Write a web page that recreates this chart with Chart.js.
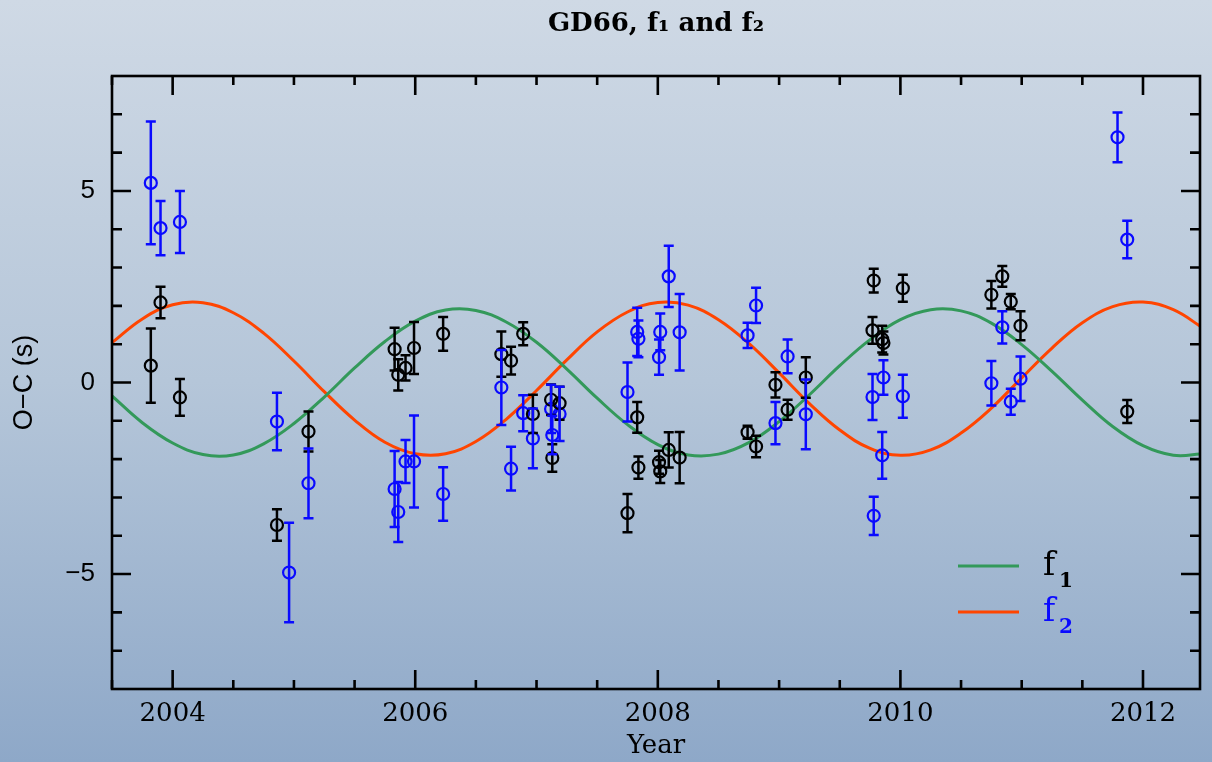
<!DOCTYPE html>
<html><head><meta charset="utf-8">
<script src="https://cdn.jsdelivr.net/npm/chart.js@4.4.1/dist/chart.umd.min.js"></script>
<style>
html,body{margin:0;padding:0;}
body{width:1212px;height:762px;overflow:hidden;background:linear-gradient(to bottom,#cfd9e5 0%,#b5c6d9 50%,#8ea8c8 100%);}
canvas{display:block;}
</style></head><body>
<canvas id="c" width="1212" height="762"></canvas>
<script>
// ---- data ----
const f1Year = [2003.82,2003.90,2004.06,2004.86,2005.12,2005.83,2005.86,2005.92,2005.99,2006.23,2006.71,2006.79,2006.89,2006.97,2007.12,2007.13,2007.19,2007.75,2007.83,2007.84,2008.01,2008.02,2008.09,2008.18,2008.74,2008.81,2008.97,2009.07,2009.22,2009.77,2009.78,2009.85,2009.86,2010.02,2010.75,2010.84,2010.91,2010.99,2011.87];
const f1Val  = [0.44,2.09,-0.39,-3.72,-1.28,0.87,0.20,0.38,0.90,1.27,0.74,0.57,1.27,-0.82,-0.45,-1.97,-0.54,-3.41,-0.91,-2.22,-2.08,-2.32,-1.76,-1.96,-1.30,-1.67,-0.06,-0.71,0.13,1.36,2.66,1.13,1.03,2.46,2.29,2.77,2.11,1.48,-0.76];
const f1Err  = [0.97,0.41,0.48,0.41,0.52,0.56,0.41,0.33,0.68,0.44,0.59,0.36,0.30,0.50,0.40,0.36,0.43,0.50,0.40,0.29,0.30,0.30,0.46,0.67,0.17,0.28,0.33,0.26,0.53,0.35,0.31,0.35,0.30,0.35,0.36,0.27,0.20,0.38,0.30];

const f2Year = [2003.82,2003.90,2004.06,2004.86,2004.96,2005.12,2005.83,2005.86,2005.92,2005.99,2006.23,2006.71,2006.79,2006.89,2006.97,2007.12,2007.13,2007.19,2007.75,2007.83,2007.84,2008.01,2008.02,2008.09,2008.18,2008.74,2008.81,2008.97,2009.07,2009.22,2009.77,2009.78,2009.85,2009.86,2010.02,2010.75,2010.84,2010.91,2010.99,2011.79,2011.87];
const f2Val  = [5.21,4.03,4.19,-1.02,-4.96,-2.63,-2.78,-3.38,-2.06,-2.06,-2.91,-0.13,-2.25,-0.80,-1.46,-0.69,-1.37,-0.82,-0.25,1.32,1.14,0.66,1.32,2.77,1.31,1.23,2.01,-1.06,0.68,-0.83,-0.38,-3.48,-1.90,0.13,-0.36,-0.02,1.44,-0.50,0.10,6.40,3.73];
const f2Err  = [1.60,0.71,0.81,0.75,1.30,0.91,0.99,0.78,0.56,1.20,0.70,0.98,0.57,0.47,0.78,0.63,0.50,0.71,0.77,0.63,0.48,0.46,0.48,0.80,1.00,0.33,0.46,0.55,0.44,0.91,0.60,0.50,0.61,0.45,0.56,0.58,0.42,0.34,0.58,0.65,0.49];

const curveYear = [2003.5,2003.75,2004.0,2004.25,2004.5,2004.75,2005.0,2005.25,2005.5,2005.75,2006.0,2006.25,2006.5,2006.75,2007.0,2007.25,2007.5,2007.75,2008.0,2008.25,2008.5,2008.75,2009.0,2009.25,2009.5,2009.75,2010.0,2010.25,2010.5,2010.75,2011.0,2011.25,2011.5,2011.75,2012.0,2012.25,2012.5];
const f1Curve = [-0.35,-1.05,-1.58,-1.88,-1.89,-1.60,-1.07,-0.38,0.38,1.07,1.60,1.89,1.88,1.58,1.05,0.35,-0.41,-1.10,-1.62,-1.89,-1.87,-1.57,-1.02,-0.32,0.44,1.12,1.64,1.90,1.87,1.55,0.99,0.29,-0.46,-1.15,-1.65,-1.90,-1.86];
const f2Curve = [1.04,1.66,2.03,2.08,1.82,1.29,0.56,-0.24,-0.98,-1.56,-1.86,-1.86,-1.54,-0.96,-0.21,0.59,1.32,1.84,2.09,2.02,1.64,1.02,0.25,-0.55,-1.24,-1.72,-1.90,-1.76,-1.32,-0.67,0.12,0.90,1.56,1.98,2.10,1.90,1.41];

const xTickLabels = [2004,2006,2008,2010,2012];
const xMinorTicks = [2003.5,2004,2004.5,2005,2005.5,2006,2006.5,2007,2007.5,2008,2008.5,2009,2009.5,2010,2010.5,2011,2011.5,2012];
const yTickLabels = [-5,0,5];
const yMinorTicks = [-7,-6,-5,-4,-3,-2,-1,0,1,2,3,4,5,6,7];
const titleText = 'GD66, f\u2081 and f\u2082';
const legendNames = ['f1','f2'];

// ---- styles ----
const BLACK = '#000000', BLUE = '#0a0aff', GREEN = '#33995a', ORANGE = '#ff4500';
const pts = (xs, ys) => xs.map((v,i)=>({x:v, y:ys[i]}));

const errorBars = {
  id:'errorBars',
  afterDatasetsDraw(chart){
    const {ctx, scales:{x,y}, chartArea:a} = chart;
    ctx.save();
    ctx.beginPath(); ctx.rect(a.left,a.top,a.width,a.height); ctx.clip();
    chart.data.datasets.forEach(ds=>{
      if(!ds.errors) return;
      ctx.strokeStyle = ds.borderColor; ctx.lineWidth = 2.5;
      ds.data.forEach((p,j)=>{
        const px = x.getPixelForValue(p.x), e = ds.errors[j];
        const y1 = y.getPixelForValue(p.y+e), y2 = y.getPixelForValue(p.y-e);
        ctx.beginPath();
        ctx.moveTo(px,y1); ctx.lineTo(px,y2);
        ctx.moveTo(px-5,y1); ctx.lineTo(px+5,y1);
        ctx.moveTo(px-5,y2); ctx.lineTo(px+5,y2);
        ctx.stroke();
      });
    });
    ctx.restore();
  }
};

const frame = {
  id:'frame',
  afterDraw(chart){
    const {ctx, scales:{x,y}, chartArea:a} = chart;
    ctx.save();
    ctx.strokeStyle = '#000'; ctx.lineWidth = 2.6;
    ctx.strokeRect(a.left,a.top,a.right-a.left,a.bottom-a.top);
    ctx.beginPath();
    xMinorTicks.forEach(v=>{
      const px = x.getPixelForValue(v), L = xTickLabels.includes(v)?19:9;
      ctx.moveTo(px,a.bottom); ctx.lineTo(px,a.bottom-L);
      ctx.moveTo(px,a.top); ctx.lineTo(px,a.top+L);
    });
    yMinorTicks.forEach(v=>{
      const py = y.getPixelForValue(v), L = yTickLabels.includes(v)?19:10;
      ctx.moveTo(a.left,py); ctx.lineTo(a.left+L,py);
      ctx.moveTo(a.right,py); ctx.lineTo(a.right-L,py);
    });
    ctx.stroke();
    // legend
    const items = [
      {c:GREEN, tc:BLACK, name:legendNames[0], y:a.bottom-123},
      {c:ORANGE, tc:BLUE, name:legendNames[1], y:a.bottom-77}
    ];
    items.forEach(it=>{
      ctx.strokeStyle = it.c; ctx.lineWidth = 3;
      ctx.beginPath(); ctx.moveTo(a.right-242,it.y); ctx.lineTo(a.right-181,it.y); ctx.stroke();
      ctx.fillStyle = it.tc; ctx.textBaseline='alphabetic'; ctx.textAlign='left';
      ctx.font = '33px "DejaVu Serif"';
      ctx.fillText(it.name[0], a.right-157, it.y+9);
      ctx.font = 'bold 20px "DejaVu Serif"';
      ctx.fillText(it.name.slice(1), a.right-141, it.y+21);
    });
    ctx.restore();
  }
};

new Chart(document.getElementById('c'), {
  type:'scatter',
  data:{datasets:[
    {type:'line', label:'f\u2081', data:pts(curveYear,f1Curve), borderColor:GREEN, borderWidth:3, pointRadius:0, tension:0.4, fill:false, order:3},
    {type:'line', label:'f\u2082', data:pts(curveYear,f2Curve), borderColor:ORANGE, borderWidth:3, pointRadius:0, tension:0.4, fill:false, order:3},
    {label:'f1 O-C', data:pts(f1Year,f1Val), errors:f1Err, borderColor:BLACK, backgroundColor:'rgba(0,0,0,0)', pointRadius:6, pointBorderWidth:2.2, pointHoverRadius:6, order:1},
    {label:'f2 O-C', data:pts(f2Year,f2Val), errors:f2Err, borderColor:BLUE, backgroundColor:'rgba(0,0,0,0)', pointRadius:6, pointBorderWidth:2.2, pointHoverRadius:6, order:2}
  ]},
  options:{
    responsive:false, animation:false, devicePixelRatio:1,
    layout:{padding:{left:0,right:12,top:0,bottom:0}},
    plugins:{
      legend:{display:false}, tooltip:{enabled:false},
      title:{display:true, text:titleText, fullSize:false, color:'#000',
        font:{family:'"DejaVu Serif"', size:26, weight:'bold', lineHeight:1.2},
        padding:{top:8.4, bottom:36.4}}
    },
    scales:{
      x:{type:'linear', min:2003.5, max:2012.47,
        grid:{display:false, drawTicks:false}, border:{display:false},
        afterBuildTicks(s){ s.ticks = xTickLabels.map(v=>({value:v})); },
        afterFit(s){ s.height = 73; },
        ticks:{color:'#000', padding:10, maxRotation:0, font:{family:'"DejaVu Serif"', size:26}, callback:v=>String(v)},
        title:{display:true, text:'Year', color:'#000', font:{family:'"DejaVu Serif"', size:26}, padding:{top:0,bottom:0}}
      },
      y:{type:'linear', min:-8, max:8,
        grid:{display:false, drawTicks:false}, border:{display:false},
        afterBuildTicks(s){ s.ticks = yTickLabels.map(v=>({value:v})); },
        afterFit(s){ s.width = 112; },
        ticks:{color:'#000', padding:17, font:{family:'"Liberation Sans"', size:26}, callback:v=> v<0 ? '\u2212'+Math.abs(v) : String(v)},
        title:{display:true, text:'O\u2212C (s)', color:'#000', font:{family:'"Liberation Sans"', size:27}, padding:{top:8,bottom:0}}
      }
    }
  },
  plugins:[errorBars, frame]
});
</script>
</body></html>
